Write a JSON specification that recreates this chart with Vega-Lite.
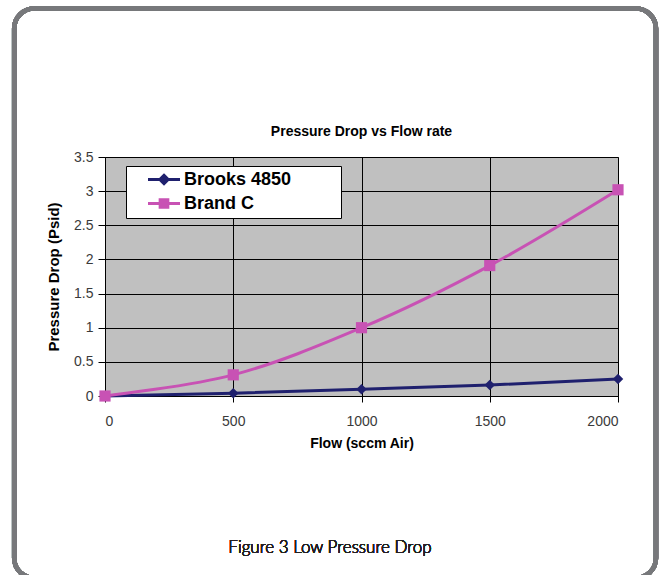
{
  "$schema": "https://vega.github.io/schema/vega-lite/v6.json",
  "autosize": "none",
  "width": 513,
  "height": 239,
  "padding": {"left": 105, "top": 157, "right": 43, "bottom": 179},
  "background": "white",
  "title": {
    "text": "Pressure Drop vs Flow rate",
    "font": "Liberation Sans",
    "fontSize": 14,
    "fontWeight": "bold",
    "color": "black",
    "anchor": "middle",
    "baseline": "bottom",
    "offset": -147
  },
  "config": {
    "view": {"fill": "#c0c0c0", "stroke": "#808080", "strokeWidth": 1},
    "axis": {
      "labelFont": "Liberation Sans",
      "labelFontSize": 14,
      "labelColor": "#3a3a3a",
      "titleFont": "Liberation Sans",
      "titleFontSize": 14,
      "titleFontWeight": "bold",
      "titleColor": "black",
      "domainColor": "black",
      "tickColor": "black",
      "grid": true,
      "gridColor": "black",
      "gridOpacity": 1,
      "gridWidth": 1
    }
  },
  "data": {
    "values": [
      {"flow": 0, "dp": 0, "series": "Brooks 4850"},
      {"flow": 500, "dp": 0.04, "series": "Brooks 4850"},
      {"flow": 1000, "dp": 0.1, "series": "Brooks 4850"},
      {"flow": 1500, "dp": 0.16, "series": "Brooks 4850"},
      {"flow": 2000, "dp": 0.25, "series": "Brooks 4850"},
      {"flow": 0, "dp": 0, "series": "Brand C"},
      {"flow": 500, "dp": 0.31, "series": "Brand C"},
      {"flow": 1000, "dp": 1.0, "series": "Brand C"},
      {"flow": 1500, "dp": 1.91, "series": "Brand C"},
      {"flow": 2000, "dp": 3.02, "series": "Brand C"}
    ]
  },
  "encoding": {
    "x": {
      "field": "flow", "type": "quantitative",
      "scale": {"domain": [0, 2000], "nice": false, "zero": false},
      "axis": {"title": "Flow (sccm Air)", "values": [0, 500, 1000, 1500, 2000], "format": "d", "tickSize": 6, "labelPadding": 12, "titlePadding": 8}
    },
    "y": {
      "field": "dp", "type": "quantitative",
      "scale": {"domain": [0, 3.5], "nice": false, "zero": false},
      "axis": {"title": "Pressure Drop (Psid)", "values": [0, 0.5, 1, 1.5, 2, 2.5, 3, 3.5], "format": "~g", "tickSize": 7, "labelPadding": 5, "titlePadding": 12, "titleFontSize": 15}
    }
  },
  "layer": [
    {
      "transform": [{"filter": "datum.series === 'Brooks 4850'"}],
      "mark": {"type": "line", "strokeWidth": 3, "color": "#1f206e"}
    },
    {
      "transform": [{"filter": "datum.series === 'Brand C'"}],
      "mark": {"type": "line", "strokeWidth": 3, "color": "#c852b4", "interpolate": "catmull-rom"}
    },
    {
      "transform": [{"filter": "datum.series === 'Brooks 4850'"}],
      "mark": {"type": "point", "filled": true, "opacity": 1, "shape": "diamond", "size": 110, "color": "#1f206e"}
    },
    {
      "transform": [{"filter": "datum.series === 'Brand C'"}],
      "mark": {"type": "point", "filled": true, "opacity": 1, "shape": "square", "size": 125, "color": "#c852b4"}
    },
    {
      "transform": [{"filter": "false"}],
      "mark": {"type": "point", "filled": false, "opacity": 1, "strokeWidth": 3},
      "encoding": {
        "color": {
          "field": "series", "type": "nominal",
          "scale": {"domain": ["Brooks 4850", "Brand C"], "range": ["#1f206e", "#c852b4"]},
          "legend": {
            "title": null,
            "orient": "none",
            "legendX": 21,
            "legendY": 9,
            "fillColor": "white",
            "strokeColor": "black",
            "padding": 4,
            "symbolOffset": 24.5,
            "symbolSize": 256,
            "symbolStrokeWidth": 3,
            "symbolOpacity": 1,
            "labelFont": "Liberation Sans",
            "labelFontSize": 18,
            "labelFontWeight": "bold",
            "labelColor": "black",
            "labelOffset": 10.5,
            "rowPadding": 3,
            "labelExpr": "datum.label + '\u2003\u2003\u2002\u200b'"
          }
        },
        "shape": {
          "field": "series", "type": "nominal",
          "scale": {
            "domain": ["Brooks 4850", "Brand C"],
            "range": [
              "M-2,0H2M0,-0.52L0.52,0L0,0.52L-0.52,0ZM0,-0.2L0.2,0L0,0.2L-0.2,0Z",
              "M-2,0H2M-0.48,-0.48H0.48V0.48H-0.48ZM-0.16,-0.16H0.16V0.16H-0.16Z"
            ]
          },
          "legend": {
            "title": null,
            "orient": "none",
            "legendX": 21,
            "legendY": 9,
            "fillColor": "white",
            "strokeColor": "black",
            "padding": 4,
            "symbolOffset": 24.5,
            "symbolSize": 256,
            "symbolStrokeWidth": 3,
            "symbolOpacity": 1,
            "labelFont": "Liberation Sans",
            "labelFontSize": 18,
            "labelFontWeight": "bold",
            "labelColor": "black",
            "labelOffset": 10.5,
            "rowPadding": 3,
            "labelExpr": "datum.label + '\u2003\u2003\u2002\u200b'"
          }
        }
      }
    },
    {
      "mark": {"type": "rect", "filled": false, "color": "#77787b", "strokeWidth": 4.5, "cornerRadius": 20, "clip": false},
      "encoding": {
        "x": {"datum": -354, "type": "quantitative", "axis": {"title": "Flow (sccm Air)", "values": [0, 500, 1000, 1500, 2000], "format": "d", "tickSize": 6, "labelPadding": 12, "titlePadding": 8}},
        "x2": {"datum": 2148},
        "y": {"datum": 5.674, "type": "quantitative", "axis": {"title": "Pressure Drop (Psid)", "values": [0, 0.5, 1, 1.5, 2, 2.5, 3, 3.5], "format": "~g", "tickSize": 7, "labelPadding": 5, "titlePadding": 12, "titleFontSize": 15}},
        "y2": {"datum": -2.665}
      }
    },
    {
      "mark": {"type": "text", "font": "Lato", "fontSize": 17, "fontWeight": 300, "color": "#231f20", "align": "center", "baseline": "middle"},
      "encoding": {
        "x": {"datum": 877, "type": "quantitative", "axis": {"title": "Flow (sccm Air)", "values": [0, 500, 1000, 1500, 2000], "format": "d", "tickSize": 6, "labelPadding": 12, "titlePadding": 8}},
        "y": {"datum": -2.226, "type": "quantitative", "axis": {"title": "Pressure Drop (Psid)", "values": [0, 0.5, 1, 1.5, 2, 2.5, 3, 3.5], "format": "~g", "tickSize": 7, "labelPadding": 5, "titlePadding": 12, "titleFontSize": 15}},
        "text": {"value": "Figure 3 Low Pressure Drop"}
      }
    }
  ]
}
